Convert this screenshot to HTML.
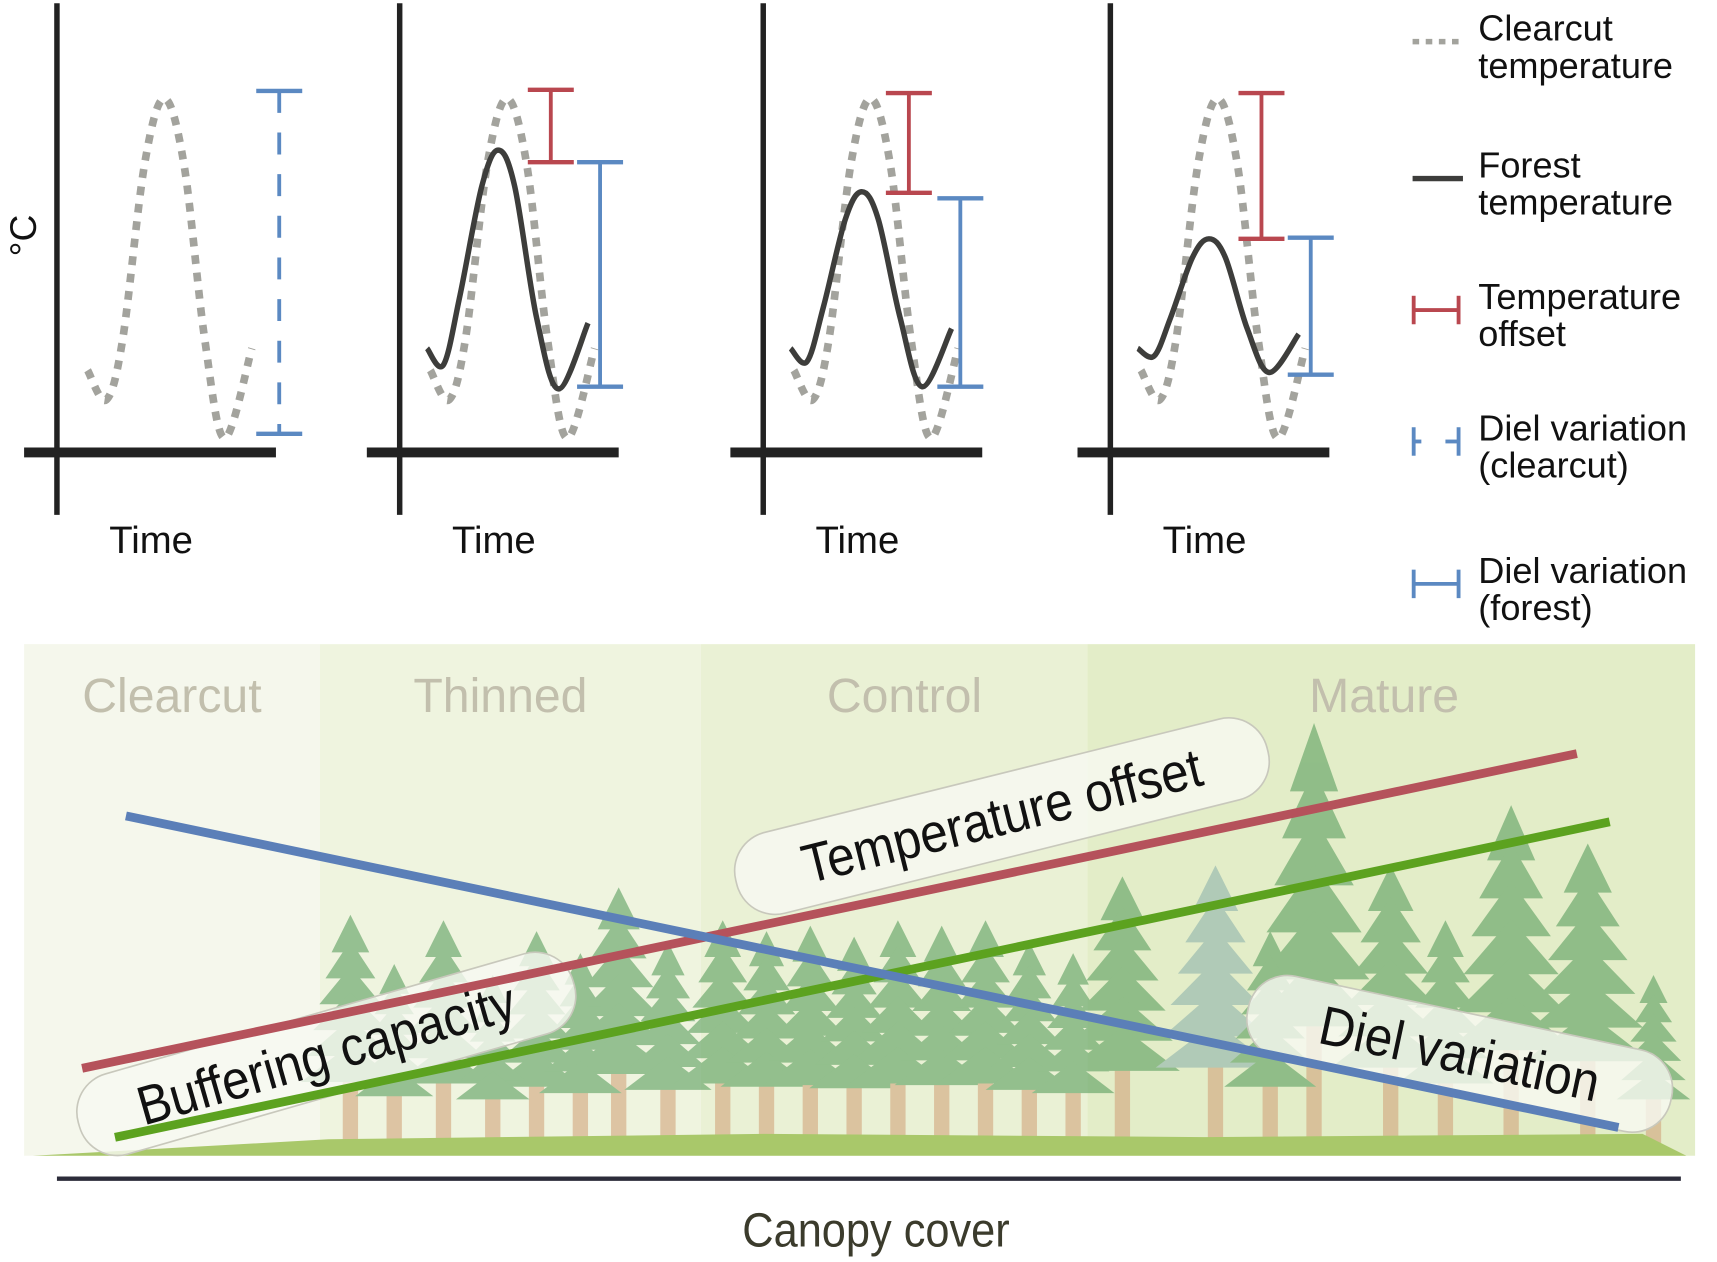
<!DOCTYPE html>
<html><head><meta charset="utf-8"><style>
html,body{margin:0;padding:0;background:#fff;}
svg{display:block;font-family:"Liberation Sans",Arial,sans-serif;}
</style></head><body>
<svg id="fig" width="1717" height="1262" viewBox="0 0 1568 1152" preserveAspectRatio="none" xmlns="http://www.w3.org/2000/svg">
<g id="bottom"></g>
<g id="toppanels"></g>
<g id="legend"></g>
</svg>
<script>
// ---- data ----
const panelAxisX = [52, 365, 697, 1014];
const timeOffsets = [28, 45, 60, 80, 98, 116, 135, 153, 178];
const clearcutTemp = [82, 55, 110, 270, 330, 270, 110, 20, 102];
const forestTimes = [25, 40, 55, 75, 90, 105, 125, 145, 172];
const forestTempThinned = [102, 87, 150, 250, 283, 250, 130, 65, 125];
const forestTempControl = [102, 90, 140, 220, 245, 220, 130, 67, 120];
const forestTempMature = [102, 95, 130, 185, 202, 185, 120, 80, 115];
const offsetTop = [null, 338, 335, 335];
const offsetBottom = [null, 272, 244, 202];
const dielClearTop = [337, null, null, null];
const dielClearBottom = [24, null, null, null];
const dielForestTop = [null, 272, 239, 203];
const dielForestBottom = [null, 67, 67, 78];
const forestSeries = [null, forestTempThinned, forestTempControl, forestTempMature];
const categories = ["Clearcut", "Thinned", "Control", "Mature"];
const trendStart = {offset: 18, buffering: 0.5, diel: 82};
const trendEnd = {offset: 97.8, buffering: 80.5, diel: 3};

const NS = "http://www.w3.org/2000/svg";
function el(tag, attrs, parent, text){
  const e = document.createElementNS(NS, tag);
  for (const k in attrs) e.setAttribute(k, attrs[k]);
  if (text !== undefined) e.textContent = text;
  parent.appendChild(e); return e;
}
const yT = v => 420 - v;
function smooth(pts){
  let d = "M" + pts[0][0] + "," + pts[0][1];
  for (let i = 0; i < pts.length - 1; i++){
    const p0 = pts[Math.max(0,i-1)], p1 = pts[i], p2 = pts[i+1], p3 = pts[Math.min(pts.length-1,i+2)];
    const c1 = [p1[0]+(p2[0]-p0[0])/6, p1[1]+(p2[1]-p0[1])/6];
    const c2 = [p2[0]-(p3[0]-p1[0])/6, p2[1]-(p3[1]-p1[1])/6];
    d += " C"+c1[0]+","+c1[1]+" "+c2[0]+","+c2[1]+" "+p2[0]+","+p2[1];
  }
  return d;
}
const topG = document.getElementById("toppanels");
const dielX = [255, 548, 877, 1197];
const offX = [null, 503, 830, 1152];
function drawBar(parent, x, t, b, color, dashed, name){
  const g = el("g", {}, parent);
  
  
  const a = {x1:x, x2:x, y1:yT(t), y2:yT(b), stroke:color, "stroke-width":3.5};
  if (dashed) a["stroke-dasharray"] = "20,18";
  el("line", a, g);
  el("line", {x1:x-21, x2:x+21, y1:yT(t), y2:yT(t), stroke:color, "stroke-width":4}, g);
  el("line", {x1:x-21, x2:x+21, y1:yT(b), y2:yT(b), stroke:color, "stroke-width":4}, g);
}
panelAxisX.forEach((axX, i) => {
  const g = el("g", {}, topG);
  
  
  const ya = el("line", {x1:axX, x2:axX, y1:3, y2:470, stroke:"#222", "stroke-width":5}, g);
  
  
  const xa = el("line", {x1:axX-30, x2:axX+200, y1:413, y2:413, stroke:"#222", "stroke-width":9}, g);
  
  
  const tl = el("text", {x:axX+86, y:505, "font-size":35, "text-anchor":"middle", fill:"#111"}, g, "Time");
  
  
  const cp = timeOffsets.map((o, k) => [axX + o, yT(clearcutTemp[k])]);
  const cl = el("path", {d:smooth(cp), fill:"none", stroke:"#a3a39d", "stroke-width":7, "stroke-dasharray":"8,8"}, g);
  
  
  if (forestSeries[i]){
    const fp = forestTimes.map((o, k) => [axX + o, yT(forestSeries[i][k])]);
    const fl = el("path", {d:smooth(fp), fill:"none", stroke:"#3d3d3b", "stroke-width":5}, g);
    
    
    drawBar(g, offX[i], offsetTop[i], offsetBottom[i], "#b9474f", false, "temperature-offset-bar");
    drawBar(g, dielX[i], dielForestTop[i], dielForestBottom[i], "#5b89c2", false, "diel-variation-forest-bar");
  } else {
    drawBar(g, dielX[i], dielClearTop[i], dielClearBottom[i], "#5b89c2", true, "diel-variation-clearcut-bar");
  }
});
const yl = el("text", {x:0, y:0, "font-size":34, "text-anchor":"middle", fill:"#111", transform:"translate(33,215) rotate(-90)"}, topG, "°C");



// legend
const lg = document.getElementById("legend");
const L = [
  ["Clearcut","temperature",35],["Forest","temperature",160],["Temperature","offset",280],
  ["Diel variation","(clearcut)",400],["Diel variation","(forest)",530]];
L.forEach((r, i) => {
  const g = el("g", {}, lg);
  
  
  el("text", {x:1350, y:r[2]+2, "font-size":33, fill:"#111"}, g, r[0]);
  el("text", {x:1350, y:r[2]+36, "font-size":33, fill:"#111"}, g, r[1]);
  const cy = r[2]+3;
  if (i===0) el("line",{x1:1290,x2:1334,y1:cy,y2:cy,stroke:"#a3a39d","stroke-width":5,"stroke-dasharray":"6,6"},g);
  if (i===1) el("line",{x1:1290,x2:1336,y1:cy,y2:cy,stroke:"#3d3d3b","stroke-width":5},g);
  if (i>=2){
    const c = i===2 ? "#b9474f" : "#5b89c2";
    el("line",{x1:1291,x2:1291,y1:cy-13,y2:cy+13,stroke:c,"stroke-width":3.5},g);
    el("line",{x1:1332,x2:1332,y1:cy-13,y2:cy+13,stroke:c,"stroke-width":3.5},g);
    if (i===3){
      el("line",{x1:1291,x2:1298,y1:cy,y2:cy,stroke:c,"stroke-width":3.5},g);
      el("line",{x1:1320,x2:1332,y1:cy,y2:cy,stroke:c,"stroke-width":3.5},g);
    } else el("line",{x1:1291,x2:1332,y1:cy,y2:cy,stroke:c,"stroke-width":3.5},g);
  }
});

// bottom panel
const bt = document.getElementById("bottom");
const bands = [[22,292,"#f5f7ec"],[292,640,"#eff4df"],[640,993,"#eaf1d5"],[993,1548,"#e3edc8"]];
const labelX = [157, 457, 826, 1264];
bands.forEach((b, i) => {
  const r = el("rect",{x:b[0],y:588,width:b[1]-b[0],height:467,fill:b[2]},bt);
  
  
  const t = el("text",{x:labelX[i],y:650,"font-size":44,"text-anchor":"middle",fill:"#c2bfad"},bt,categories[i]);
  
  
});
// trees (decorative)
const trees = [[320,835],[405,840],[490,850],[565,810],[610,860],[660,840],[700,850],[740,845],[780,855],[820,840],[860,845],[900,840],[940,860],[1025,800],[1110,790],[1200,660],[1270,790],[1380,735],[1450,770],[1510,890],[360,880],[450,890],[530,870],[980,870],[1160,850],[1320,840]];
const tg = el("g",{opacity:0.6},bt);


trees.forEach(t => {
  const x = t[0], ty = t[1]; const h = 1050 - ty; const w = Math.min(55, h*0.2);
  el("rect",{x:x-7,y:ty+h*0.5,width:14,height:h*0.5,fill:"#d2a57c"},tg);
  const col = x>1050 && x<1130 ? "#8fb3ad" : "#5a9e5e";
  for (let k=0;k<6;k++){
    const y0 = ty + k*h*0.11; const ww = w*(0.4+k*0.13);
    el("polygon",{points:`${x},${y0} ${x-ww},${y0+h*0.16} ${x+ww},${y0+h*0.16}`,fill:col},tg);
  }
});
el("polygon",{points:"30,1055 300,1040 700,1035 1100,1038 1500,1035 1540,1055",fill:"#a9c86a"},bt);
// pills backgrounds first
const pillBg = el("g",{},bt);
const lineG = el("g",{},bt);
const pillTx = el("g",{},bt);
function pill(name, cx, cy, w, ang, txt){
  const tr = `translate(${cx},${cy}) rotate(${ang})`;
  const r = el("rect",{x:-w/2,y:-38,width:w,height:76,rx:36,fill:"#f8f9f2","fill-opacity":0.8,stroke:"#c8c8bc","stroke-width":1.5,transform:tr},pillBg);
  
  
  const g = el("g",{transform:tr},pillTx);
  
  
  el("text",{x:0,y:17,"font-size":50,"text-anchor":"middle",fill:"#111",transform:"scale(0.9,1)"},g,txt);
}
pill("temperature-offset-label", 915, 745, 500, -14, "Temperature offset");
pill("buffering-capacity-label", 298, 962, 470, -16, "Buffering capacity");
pill("diel-variation-label", 1333, 962, 395, 12, "Diel variation");
// trend lines
const tyS = v => 1040 - v*3.6;
function trend(name, x0, x1, v0, v1, col){
  const l = el("line",{x1:x0,y1:tyS(v0),x2:x1,y2:tyS(v1),stroke:col,"stroke-width":8},lineG);
  
  
}
trend("temperature-offset-line", 75, 1440, trendStart.offset, trendEnd.offset, "#b5525b");
trend("buffering-capacity-line", 105, 1470, trendStart.buffering, trendEnd.buffering, "#5ca21f");
trend("diel-variation-line", 115, 1478, trendStart.diel, trendEnd.diel, "#5b7fb8");
const cax = el("line",{x1:52,x2:1535,y1:1076,y2:1076,stroke:"#2c2c3a","stroke-width":4},bt);


const at = el("text",{x:800,y:1138,"font-size":44,"text-anchor":"middle",fill:"#3b3b2c",transform:"translate(80,0) scale(0.9,1)"},bt,"Canopy cover");


</script>
</body></html>
